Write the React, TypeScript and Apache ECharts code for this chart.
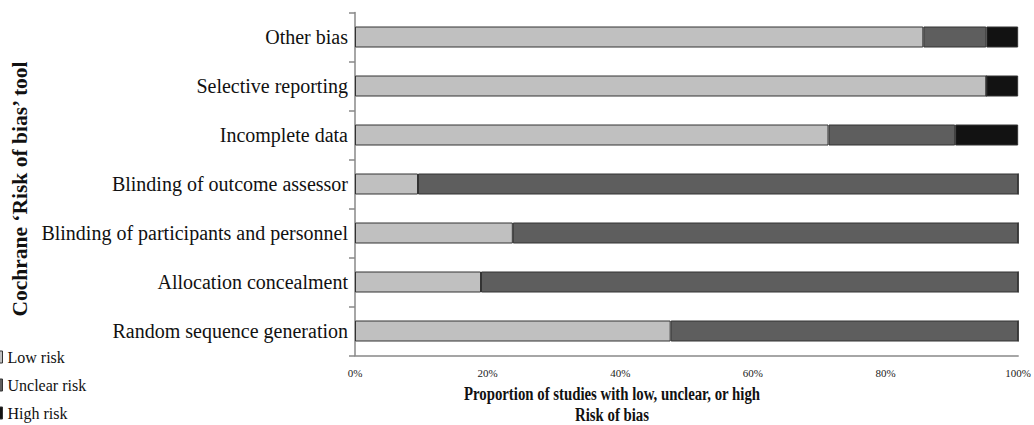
import React, { useEffect, useRef } from "react";
import * as echarts from "echarts";

const categories = [
  "Random sequence generation",
  "Allocation concealment",
  "Blinding of participants and personnel",
  "Blinding of outcome assessor",
  "Incomplete data",
  "Selective reporting",
  "Other bias",
];
const lowRisk = [47.6, 19.0, 23.8, 9.5, 71.4, 95.2, 85.7];
const unclearRisk = [52.4, 81.0, 76.2, 90.5, 19.1, 0, 9.5];
const highRisk = [0, 0, 0, 0, 9.5, 4.8, 4.8];
const seriesNames = ["Low risk", "Unclear risk", "High risk"];
const xTitleLines = ["Proportion of studies with low, unclear, or high", "Risk of bias"];
const yTitle = "Cochrane \u2018Risk of bias\u2019 tool";

const FONT = '"Liberation Serif", "Times New Roman", serif';

export default function App() {
  const ref = useRef<HTMLDivElement>(null);
  useEffect(() => {
    if (!ref.current) return;
    const chart = echarts.init(ref.current, null, { renderer: "svg" });
    const colors = ["#c0c0c0", "#5e5e5e", "#121212"];
    const values = [lowRisk, unclearRisk, highRisk];
    chart.setOption({
      animation: false,
      textStyle: { fontFamily: FONT },
      grid: { left: 355, right: 15, top: 12.5, bottom: 69.5 },
      legend: seriesNames.map((n, i) => ({
        orient: "vertical",
        left: -12,
        top: 349 + i * 28,
        itemWidth: 14,
        itemHeight: 12,
        padding: 0,
        icon: "rect",
        textStyle: { fontFamily: FONT, fontSize: 16, color: "#111" },
        data: [
          {
            name: n,
            itemStyle: { color: colors[i], borderColor: "#333", borderWidth: 1 },
          },
        ],
      })),
      xAxis: {
        type: "value",
        min: 0,
        max: 100,
        interval: 20,
        axisLine: { show: true, lineStyle: { color: "#888", width: 1.5 } },
        axisTick: { show: false },
        splitLine: { show: false },
        axisLabel: {
          formatter: "{value}%",
          fontFamily: FONT,
          fontSize: 11,
          color: "#222",
          margin: 12,
        },
      },
      yAxis: {
        type: "category",
        data: categories,
        axisLine: { show: true, lineStyle: { color: "#888", width: 1.5 } },
        axisTick: { show: true, length: 6, lineStyle: { color: "#888", width: 1.5 } },
        axisLabel: { fontFamily: FONT, fontSize: 20, color: "#111", margin: 7 },
      },
      series: seriesNames.map((n, i) => ({
        name: n,
        type: "bar",
        stack: "total",
        barWidth: 21,
        data: values[i],
        itemStyle: { color: colors[i], borderColor: "#333", borderWidth: 1 },
      })),
      graphic: [
        {
          type: "text",
          x: 20,
          y: 189,
          rotation: Math.PI / 2,
          style: {
            text: yTitle,
            fontFamily: FONT,
            fontSize: 21.5,
            fontWeight: "bold",
            fill: "#111",
            align: "center",
            verticalAlign: "middle",
          },
        },
        ...xTitleLines.map((t, i) => ({
          type: "text",
          x: 612,
          y: 394 + i * 21,
          scaleX: 0.78,
          style: {
            text: t,
            fontFamily: FONT,
            fontSize: 19,
            fontWeight: "bold",
            fill: "#111",
            align: "center",
            verticalAlign: "middle",
          },
        })),
      ],
    });
    return () => chart.dispose();
  }, []);
  return (
    <div
      ref={ref}
      style={{ position: "absolute", left: 0, top: 0, width: 1034, height: 425 }}
    />
  );
}
